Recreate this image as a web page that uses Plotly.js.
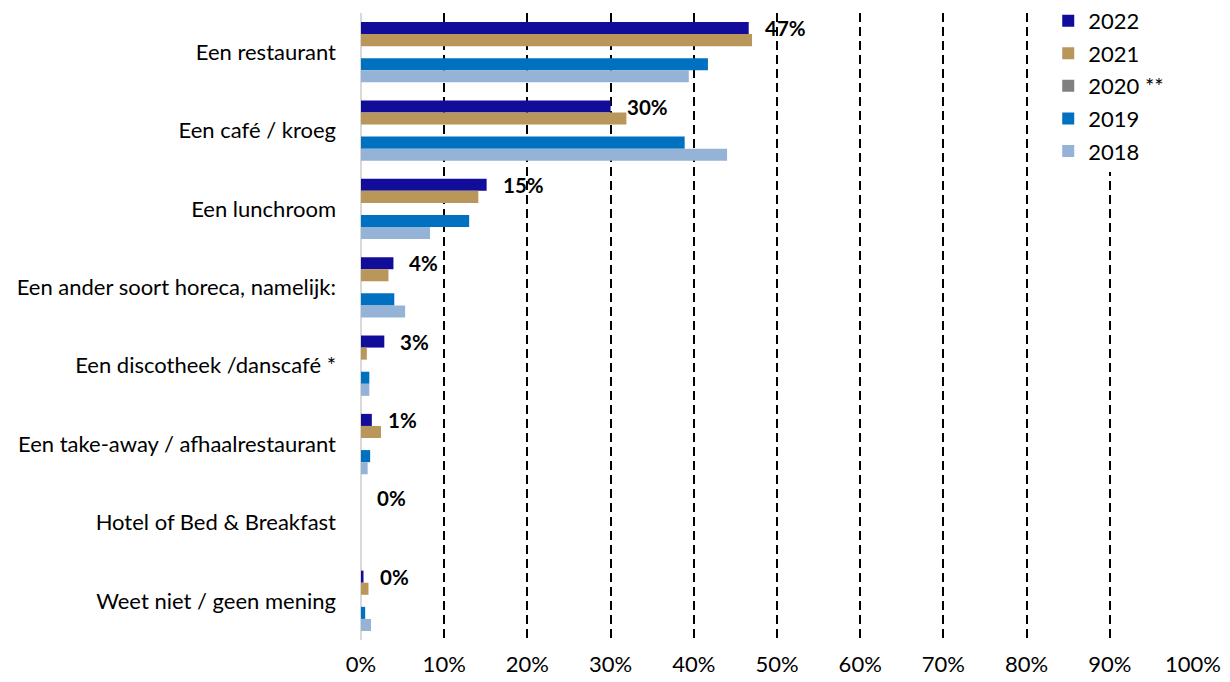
<!DOCTYPE html>
<html>
<head>
<meta charset="utf-8">
<script src="https://cdn.plot.ly/plotly-3.0.1.min.js"></script>
<style>
html,body{margin:0;padding:0;background:#fff;}
#chart{width:1230px;height:682px;}
</style>
</head>
<body>
<div id="chart"></div>
<script>
const categories = [
  "Een restaurant",
  "Een café / kroeg",
  "Een lunchroom",
  "Een ander soort horeca, namelijk:",
  "Een discotheek /danscafé *",
  "Een take-away / afhaalrestaurant",
  "Hotel of Bed & Breakfast",
  "Weet niet / geen mening"
];
const seriesNames = ["2022", "2021", "2020 **", "2019", "2018"];
const v2022 = [46.6, 30.0, 15.1, 3.9, 2.8, 1.3, 0, 0.3];
const v2021 = [47.0, 31.9, 14.1, 3.3, 0.7, 2.4, 0, 0.9];
const v2020 = [null, null, null, null, null, null, null, null];
const v2019 = [41.7, 38.9, 13.0, 4.0, 1.0, 1.1, 0, 0.5];
const v2018 = [39.4, 44.0, 8.3, 5.3, 1.0, 0.8, 0, 1.2];
const labels2022 = ["47%", "30%", "15%", "4%", "3%", "1%", "0%", "0%"];
const tickVals = [0, 10, 20, 30, 40, 50, 60, 70, 80, 90, 100];
const tickText = ["0%", "10%", "20%", "30%", "40%", "50%", "60%", "70%", "80%", "90%", "100%"];

const colors = ["#120C9A", "#B9965A", "#808080", "#0070C0", "#95B3D7"];
const allValues = [v2022, v2021, v2020, v2019, v2018];
const FONT = "Lato, 'Open Sans', sans-serif";

const traces = allValues.map((vals, i) => ({
  type: "bar",
  orientation: "h",
  name: seriesNames[i],
  legendgroup: "g" + i,
  x: vals,
  y: categories,
  marker: {color: colors[i], line: {width: 0}},
  hoverinfo: "x+name"
}));

const annotations = v2022.map((v, i) => ({
  x: v, y: categories[i], xref: "x", yref: "y",
  text: "<b>" + labels2022[i] + "</b>",
  showarrow: false, xanchor: "left", yanchor: "middle",
  xshift: 14, yshift: 24,
  font: {family: FONT, size: 20.5, color: "#000"}
}));

const layout = {
  width: 1230, height: 682,
  margin: {l: 361, r: 37, t: 13, b: 42, autoexpand: false},
  paper_bgcolor: "#fff", plot_bgcolor: "#fff",
  barmode: "group", bargap: 0.23, bargroupgap: 0,
  font: {family: FONT, size: 22, color: "#000"},
  xaxis: {
    range: [0, 100], tickvals: tickVals, ticktext: tickText,
    showgrid: true, gridcolor: "#000", gridwidth: 2, griddash: "9px,5px",
    zeroline: true, zerolinecolor: "#D9D9D9", zerolinewidth: 2,
    showline: false, ticks: "", ticklabelstandoff: 9,
    tickfont: {family: FONT, size: 22, color: "#000"},
    automargin: false, fixedrange: true
  },
  yaxis: {
    autorange: "reversed", showgrid: false, zeroline: false, showline: false,
    ticks: "", ticklabelstandoff: 24,
    tickfont: {family: FONT, size: 22, color: "#000"},
    automargin: false, fixedrange: true
  },
  legend: {
    x: 0.826, xanchor: "left", y: 1.021, yanchor: "top",
    bgcolor: "#fff", borderwidth: 0,
    traceorder: "grouped", tracegroupgap: 1,
    font: {family: FONT, size: 22, color: "#000"}
  },
  annotations: annotations,
  showlegend: true
};

Plotly.newPlot("chart", traces, layout, {displayModeBar: false, staticPlot: true});
</script>
</body>
</html>
